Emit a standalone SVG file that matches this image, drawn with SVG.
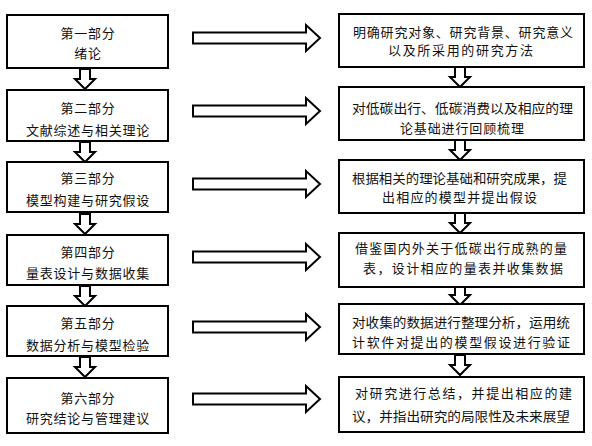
<svg xmlns="http://www.w3.org/2000/svg" width="592" height="446" viewBox="0 0 592 446">
<style>
.box{fill:#fff;stroke:#000;stroke-width:2}
.arr{fill:#fff;stroke:#000;stroke-width:2;stroke-linejoin:miter}
text{font-family:"Noto Sans CJK SC","Liberation Sans",sans-serif;font-size:13px;fill:#111}
.c{text-anchor:middle;letter-spacing:0.8px}
</style>
<defs>
<path id="ra" d="M0,-5.5 H113 V-13 L127,0 L113,13 V5.5 H0 Z"/>
<path id="da" d="M-5,0 V10 H-10 L0,20 L10,10 H5 V0 Z"/>
</defs>
<rect width="592" height="446" fill="#fff"/>
<g id="connectors">
<use href="#ra" class="arr" x="193" y="38"/>
<use href="#ra" class="arr" x="193" y="111"/>
<use href="#ra" class="arr" x="193" y="184"/>
<use href="#ra" class="arr" x="193" y="257"/>
<use href="#ra" class="arr" x="193" y="327"/>
<use href="#ra" class="arr" x="193" y="399"/>
<use href="#da" class="arr" x="85" y="69"/>
<use href="#da" class="arr" x="85" y="142"/>
<use href="#da" class="arr" x="85" y="214"/>
<use href="#da" class="arr" x="85" y="286"/>
<use href="#da" class="arr" x="85" y="357"/>
<use href="#da" class="arr" x="460" y="67"/>
<use href="#da" class="arr" x="460" y="140"/>
<use href="#da" class="arr" x="460" y="213"/>
<use href="#da" class="arr" x="460" y="285"/>
<use href="#da" class="arr" x="460" y="355"/>
</g>
<g id="L1"><rect class="box" x="7" y="15" width="161" height="53"/><text class="c" x="88" y="38">第一部分</text><text class="c" x="88" y="58">绪论</text></g>
<g id="L2"><rect class="box" x="7" y="90" width="161" height="51"/><text class="c" x="88" y="113">第二部分</text><text class="c" x="88" y="135">文献综述与相关理论</text></g>
<g id="L3"><rect class="box" x="7" y="162" width="161" height="50"/><text class="c" x="88" y="183">第三部分</text><text class="c" x="88" y="205">模型构建与研究假设</text></g>
<g id="L4"><rect class="box" x="7" y="235" width="161" height="50"/><text class="c" x="88" y="257">第四部分</text><text class="c" x="88" y="278">量表设计与数据收集</text></g>
<g id="L5"><rect class="box" x="7" y="306" width="161" height="50"/><text class="c" x="88" y="328">第五部分</text><text class="c" x="88" y="350">数据分析与模型检验</text></g>
<g id="L6"><rect class="box" x="7" y="378" width="161" height="55"/><text class="c" x="88" y="403">第六部分</text><text class="c" x="88" y="423">研究结论与管理建议</text></g>
<g id="R1"><rect class="box" x="339" y="14" width="245" height="53"/><text x="353" y="37" textLength="220" lengthAdjust="spacing">明确研究对象、研究背景、研究意义</text><text x="388" y="55" textLength="145" lengthAdjust="spacing">以及所采用的研究方法</text></g>
<g id="R2"><rect class="box" x="339" y="87" width="245" height="53"/><text x="352" y="113" textLength="221" lengthAdjust="spacingAndGlyphs">对低碳出行、低碳消费以及相应的理</text><text x="400" y="133" textLength="124" lengthAdjust="spacing">论基础进行回顾梳理</text></g>
<g id="R3"><rect class="box" x="339" y="160" width="245" height="53"/><text x="352" y="183" textLength="215" lengthAdjust="spacingAndGlyphs">根据相关的理论基础和研究成果，提</text><text x="382" y="202" textLength="155" lengthAdjust="spacing">出相应的模型并提出假设</text></g>
<g id="R4"><rect class="box" x="339" y="233" width="245" height="54"/><text x="355" y="253" textLength="212" lengthAdjust="spacing">借鉴国内外关于低碳出行成熟的量</text><text x="363" y="273" textLength="200" lengthAdjust="spacing">表，设计相应的量表并收集数据</text></g>
<g id="R5"><rect class="box" x="339" y="304" width="245" height="50"/><text x="352" y="327" textLength="218" lengthAdjust="spacingAndGlyphs">对收集的数据进行整理分析，运用统</text><text x="352" y="347" textLength="218" lengthAdjust="spacing">计软件对提出的模型假设进行验证</text></g>
<g id="R6"><rect class="box" x="339" y="377" width="245" height="55"/><text x="355" y="398" textLength="217" lengthAdjust="spacing">对研究进行总结，并提出相应的建</text><text x="352" y="421" textLength="218" lengthAdjust="spacingAndGlyphs">议，并指出研究的局限性及未来展望</text></g>
</svg>
